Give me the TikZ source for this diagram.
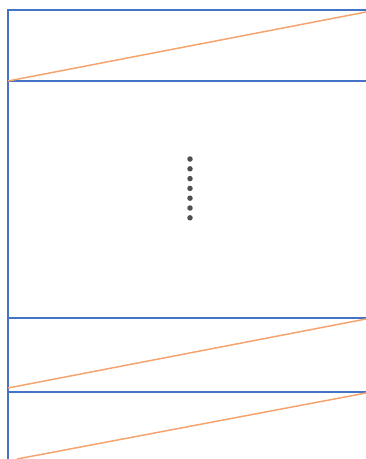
\documentclass[tikz,border=0pt]{standalone}
\definecolor{frameblue}{HTML}{4472C4}
\definecolor{diagorange}{HTML}{F4A46E}
\definecolor{dotgray}{HTML}{505050}
\tikzset{
  frameline/.style={draw=frameblue, line width=2.4pt},
  diagline/.style={draw=diagorange, line width=1.5pt},
  dotmark/.style={circle, fill=dotgray, inner sep=0pt, minimum size=5.5pt}
}
\begin{document}
\begin{tikzpicture}[x=1pt,y=-1pt]
\useasboundingbox (0,0) rectangle (366,459);
% frame
\draw[frameline] (8,459) -- (8,10) -- (366,10);
\draw[frameline] (8,81) -- (366,81);
\draw[frameline] (8,318) -- (366,318);
\draw[frameline] (8,392) -- (366,392);
% diagonals
\draw[diagline] (8,81) -- (366,12);
\draw[diagline] (8,388) -- (366,319);
\draw[diagline] (17,459) -- (366,393);
% dots
\foreach \i in {0,...,6} {
  \node[dotmark] (d\i) at (190,159+9.8*\i) {};
}
\end{tikzpicture}
\end{document}
